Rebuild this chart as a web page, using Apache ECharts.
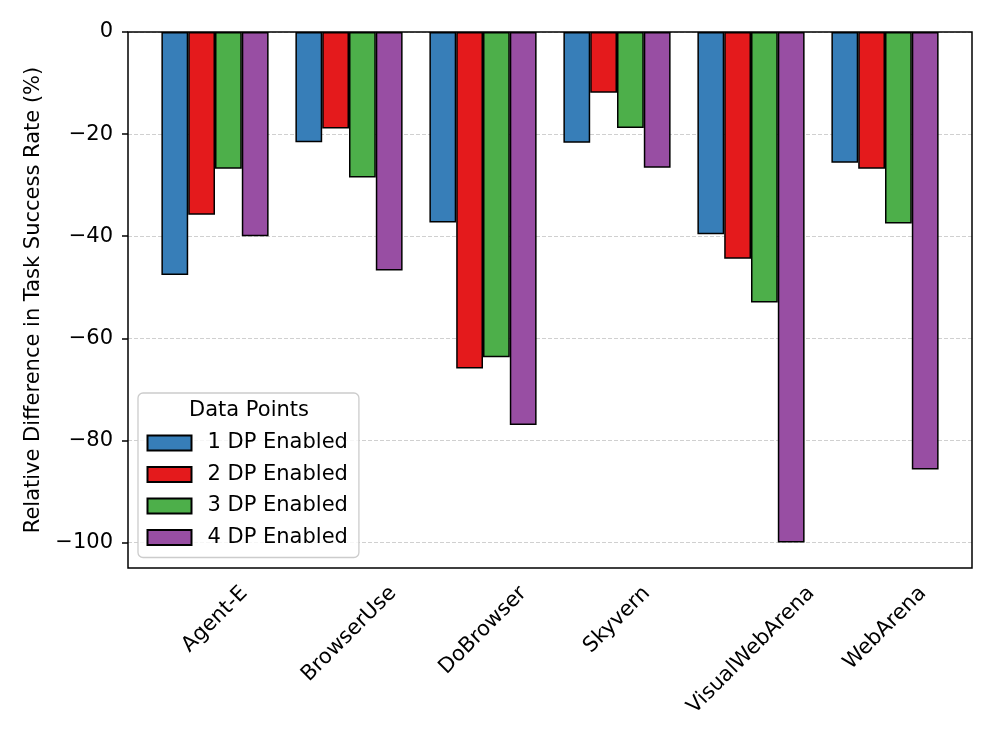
<!DOCTYPE html>
<html>
<head>
<meta charset="utf-8">
<script src="https://cdn.jsdelivr.net/npm/echarts@6/dist/echarts.min.js"></script>
<style>
html,body{margin:0;padding:0;background:#fff;}
#chart{width:996px;height:747px;}
</style>
</head>
<body>
<div id="chart"></div>
<script>
const categories = ['Agent-E', 'BrowserUse', 'DoBrowser', 'Skyvern', 'VisualWebArena', 'WebArena'];
const seriesNames = ['1 DP Enabled', '2 DP Enabled', '3 DP Enabled', '4 DP Enabled'];
const dp1 = [-47.6, -21.6, -37.3, -21.7, -39.6, -25.6];
const dp2 = [-35.8, -18.9, -65.9, -11.9, -44.4, -26.8];
const dp3 = [-26.8, -28.5, -63.7, -18.8, -53.0, -37.5];
const dp4 = [-40.0, -46.7, -77.0, -26.6, -100.0, -85.7];
const yTicks = [0, -20, -40, -60, -80, -100];
const yMin = -105, yMax = 0;
const colors = ['#377eb8', '#e41a1c', '#4daf4a', '#984ea3'];
const legendTitle = 'Data Points';
const yTitle = 'Relative Difference in Task Success Rate (%)';

const FONT = 'DejaVu Sans';
const FS = 21;

// layout
const plotL = 128, plotR = 972, plotT = 32, plotB = 568;
const catW = 134;
const innerL = 215 - catW / 2, innerR = innerL + catW * categories.length;

// per-label rich padding to emulate centered rotated labels
const cv = document.createElement('canvas').getContext('2d');
cv.font = FS + 'px "' + FONT + '"';
const rich = {};
categories.forEach((c, i) => {
  const w = cv.measureText(c).width;
  const h = 23;
  const C = 14 + (w + h) / (2 * Math.SQRT2);
  const p = Math.SQRT2 * C;
  rich['l' + i] = { padding: [p, p, 0, 0], fontSize: FS, fontFamily: FONT, color: '#000' };
});

const allData = [dp1, dp2, dp3, dp4];
const series = allData.map((d, i) => ({
  name: seriesNames[i],
  type: 'bar',
  xAxisIndex: 1,
  yAxisIndex: 1,
  data: d,
  barGap: '0%',
  barCategoryGap: '20%',
  itemStyle: { color: colors[i], borderColor: '#000', borderWidth: 1.5 },
  emphasis: { disabled: true },
  animation: false
}));

const chart = echarts.init(document.getElementById('chart'), null, { renderer: 'canvas' });
chart.setOption({
  animation: false,
  backgroundColor: '#fff',
  textStyle: { fontFamily: FONT },
  grid: [
    { left: plotL, top: plotT, width: plotR - plotL, height: plotB - plotT, show: true, z: 10,
      borderColor: '#000', borderWidth: 1.5, backgroundColor: 'transparent', containLabel: false, outerBoundsMode: 'none' },
    { left: innerL, top: plotT, width: innerR - innerL, height: plotB - plotT, show: false, containLabel: false, outerBoundsMode: 'none' }
  ],
  xAxis: [
    { type: 'value', gridIndex: 0, min: 0, max: 1, show: false },
    { type: 'category', gridIndex: 1, data: categories,
      axisLine: { show: false },
      axisTick: { show: true, alignWithLabel: true, length: 6, lineStyle: { color: '#000', width: 1.5 } },
      axisLabel: { interval: 0, rotate: 45, margin: 0, align: 'center', verticalAlign: 'middle',
        fontSize: FS, fontFamily: FONT, color: '#000', hideOverlap: false,
        formatter: (v, i) => '{l' + i + '|' + v + '}', rich: rich },
      splitLine: { show: false } }
  ],
  yAxis: [
    { type: 'value', gridIndex: 0, min: yMin, max: yMax, splitNumber: 5,
      axisLine: { show: false },
      axisTick: { show: true, length: 6, customValues: yTicks, lineStyle: { color: '#000', width: 1.5 } },
      axisLabel: { show: true, customValues: yTicks, margin: 15, fontSize: FS, fontFamily: FONT, color: '#000',
        formatter: v => (v < 0 ? '\u2212' + Math.abs(v) : String(v)) },
      splitLine: { show: true, lineStyle: { color: '#d0d0d0', width: 1, type: [4, 2] } },
      name: yTitle, nameLocation: 'middle', nameGap: 84,
      nameTextStyle: { fontSize: FS, fontFamily: FONT, color: '#000' } },
    { type: 'value', gridIndex: 1, min: yMin, max: yMax, show: false, splitLine: { show: false } }
  ],
  legend: {
    show: true,
    orient: 'vertical',
    left: 138, top: 393,
    padding: [39.5, 11, 9.5, 8.5],
    itemWidth: 44, itemHeight: 15, itemGap: 10.5,
    borderColor: '#cccccc', borderWidth: 1.3, borderRadius: 5,
    backgroundColor: 'rgba(255,255,255,0.8)',
    icon: 'rect',
    selectedMode: false,
    textStyle: { fontSize: FS, fontFamily: FONT, color: '#000', lineHeight: 21, padding: [0, 0, 0, 11] },
    data: seriesNames
  },
  graphic: [
    { type: 'text', x: 249, y: 411, z: 100,
      style: { text: legendTitle, fontSize: FS, fontFamily: FONT, fill: '#000', align: 'center', verticalAlign: 'middle' } }
  ],
  series: series
});
</script>
</body>
</html>
